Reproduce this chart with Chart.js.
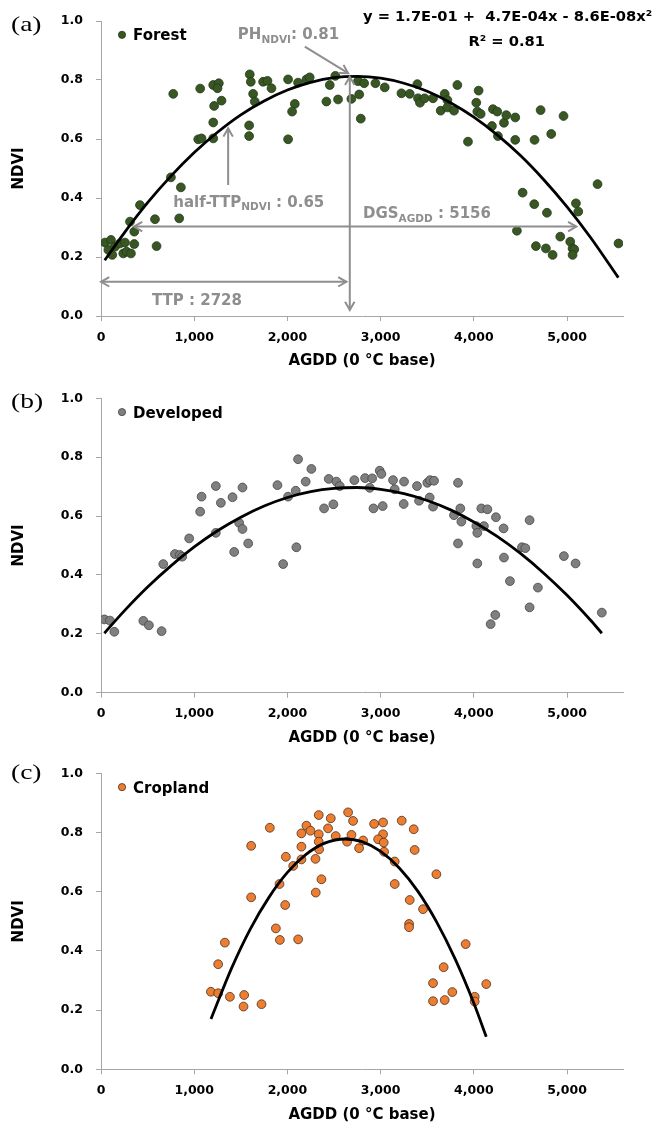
<!DOCTYPE html>
<html><head><meta charset="utf-8">
<script src="https://cdn.jsdelivr.net/npm/chart.js@4.4.1/dist/chart.umd.min.js"></script>
<style>
html,body{margin:0;padding:0;background:#fff;width:655px;height:1126px;overflow:hidden;position:relative;}
canvas{position:absolute;left:0;}
</style></head><body>
<canvas id="ca" width="655" height="372" style="top:0px"></canvas>
<canvas id="cb" width="655" height="377" style="top:372px"></canvas>
<canvas id="cc" width="655" height="377" style="top:749px"></canvas>
<script>
// ---------- tick labels ----------
const xTickValues = [0, 1000, 2000, 3000, 4000, 5000];
const xTickLabels = ['0', '1,000', '2,000', '3,000', '4,000', '5,000'];
const yTickValues = [0, 0.2, 0.4, 0.6, 0.8, 1.0];
const yTickLabels = ['0.0', '0.2', '0.4', '0.6', '0.8', '1.0'];
const xTitle = 'AGDD (0 °C base)';
const yTitle = 'NDVI';

// ---------- (a) Forest ----------
const forestAGDD = [43,107,79,121,150,204,257,239,275,321,357,311,357,418,579,596,750,857,839,775,1064,1204,1264,1250,1293,1214,1204,1043,1079,1204,1596,1607,1632,1650,1739,1786,1829,1589,1589,2007,2007,2079,2050,2114,2204,2239,2418,2454,2514,2543,2686,2757,2770,2787,2823,2944,3044,3223,3312,3394,3401,3422,3472,3562,3644,3687,3716,3716,3787,3823,3937,4026,4037,4051,4073,4194,4205,4251,4258,4323,4348,4444,4444,4651,4716,4830,4962,4523,4648,4784,4462,4666,4773,4845,4927,5034,5059,5077,5059,5095,5120,5327,5552];
const forestNDVI = [0.249,0.258,0.224,0.207,0.235,0.246,0.249,0.212,0.218,0.212,0.244,0.320,0.286,0.376,0.328,0.237,0.470,0.436,0.331,0.753,0.771,0.783,0.789,0.772,0.730,0.712,0.656,0.599,0.602,0.602,0.819,0.794,0.753,0.727,0.794,0.797,0.772,0.646,0.610,0.599,0.802,0.719,0.693,0.791,0.802,0.809,0.727,0.783,0.814,0.734,0.736,0.796,0.751,0.669,0.789,0.789,0.775,0.755,0.753,0.786,0.738,0.723,0.738,0.738,0.696,0.753,0.732,0.707,0.696,0.783,0.591,0.723,0.693,0.764,0.685,0.644,0.701,0.693,0.610,0.655,0.681,0.673,0.597,0.597,0.698,0.617,0.678,0.418,0.379,0.350,0.289,0.237,0.229,0.207,0.269,0.252,0.229,0.226,0.207,0.382,0.354,0.447,0.246];
const forestFitAGDD = [40,250,500,750,1000,1250,1500,1750,2000,2250,2500,2750,3000,3250,3500,3750,4000,4250,4500,4750,5000,5250,5550];
const forestFitNDVI = [0.189,0.282,0.384,0.474,0.554,0.623,0.682,0.729,0.766,0.792,0.808,0.812,0.806,0.789,0.762,0.723,0.674,0.614,0.544,0.462,0.370,0.267,0.130];

// ---------- (b) Developed ----------
const devAGDD = [36,96,143,454,514,650,668,793,846,871,946,1064,1079,1232,1286,1232,1411,1518,1482,1518,1429,1579,1893,1954,2096,2007,2089,2114,2257,2196,2393,2493,2443,2525,2561,2718,2833,2909,2883,2990,3008,2923,3022,3133,3151,3251,3247,3390,3412,3501,3530,3573,3526,3562,3830,3787,3855,3866,3830,4027,4037,4108,4080,4145,4237,4319,4037,4323,4516,4552,4598,4387,4687,4598,4230,4180,4966,5091,5373];
const devNDVI = [0.249,0.245,0.207,0.244,0.229,0.209,0.437,0.471,0.468,0.462,0.524,0.615,0.666,0.702,0.645,0.543,0.664,0.697,0.577,0.556,0.478,0.507,0.705,0.437,0.494,0.666,0.686,0.793,0.760,0.717,0.626,0.640,0.726,0.717,0.702,0.722,0.729,0.728,0.696,0.754,0.743,0.626,0.634,0.722,0.691,0.717,0.641,0.702,0.652,0.713,0.722,0.720,0.663,0.632,0.713,0.603,0.626,0.581,0.507,0.566,0.543,0.566,0.626,0.623,0.596,0.558,0.439,0.459,0.494,0.491,0.586,0.379,0.357,0.290,0.264,0.233,0.464,0.439,0.272];
const devFitAGDD = [36,250,500,750,1000,1250,1500,1750,2000,2250,2500,2750,3000,3250,3500,3750,4000,4250,4500,4750,5000,5250,5373];
const devFitNDVI = [0.202,0.278,0.359,0.431,0.495,0.550,0.596,0.634,0.663,0.683,0.694,0.697,0.691,0.676,0.653,0.621,0.580,0.531,0.473,0.406,0.331,0.247,0.202];

// ---------- (c) Cropland ----------
const cropAGDD = [1179,1257,1257,1329,1383,1536,1529,1722,1611,1611,1811,1876,1919,2115,1915,1976,1983,2062,2150,2150,2150,2204,2247,2301,2304,2365,2336,2336,2336,2340,2436,2465,2518,2651,2704,2687,2640,2769,2812,2930,3026,3026,2973,3033,3037,3226,3355,3365,3151,3151,3598,3312,3455,3305,3305,3912,3676,3562,3769,3562,3687,4009,4009,4133];
const cropNDVI = [0.262,0.257,0.355,0.428,0.245,0.251,0.212,0.220,0.755,0.581,0.816,0.476,0.437,0.439,0.626,0.555,0.718,0.687,0.752,0.797,0.709,0.823,0.806,0.711,0.597,0.642,0.859,0.794,0.769,0.743,0.814,0.848,0.788,0.868,0.839,0.792,0.769,0.747,0.773,0.829,0.834,0.794,0.777,0.766,0.735,0.840,0.811,0.741,0.702,0.626,0.659,0.572,0.541,0.491,0.480,0.423,0.345,0.291,0.261,0.230,0.234,0.245,0.229,0.288];
const cropFitAGDD = [1180,1400,1600,1800,2000,2200,2400,2622,2800,3000,3200,3400,3600,3800,4000,4133];
const cropFitNDVI = [0.170,0.341,0.473,0.580,0.665,0.726,0.764,0.778,0.769,0.736,0.680,0.601,0.498,0.372,0.223,0.110];

// ---------- annotation values for (a) ----------
const eqLines = ['y = 1.7E-01 +  4.7E-04x - 8.6E-08x²', 'R² = 0.81'];
const phNote = [{t:'PH'},{t:'NDVI',sub:true},{t:': 0.81'}];
const halfNote = [{t:'half-TTP'},{t:'NDVI',sub:true},{t:' : 0.65'}];
const ttpNote = [{t:'TTP : 2728'}];
const dgsNote = [{t:'DGS'},{t:'AGDD',sub:true},{t:' : 5156'}];

const FONT = "'DejaVu Sans', sans-serif";
const GRAY = '#8e8e8e';
const AXIS = '#a6a6a6';

function head(ctx, xa, ya, xb, yb) {
  const ang = Math.atan2(yb - ya, xb - xa), L = 9.5, w = 0.52;
  ctx.beginPath();
  ctx.moveTo(xb - L * Math.cos(ang - w), yb - L * Math.sin(ang - w));
  ctx.lineTo(xb, yb);
  ctx.lineTo(xb - L * Math.cos(ang + w), yb - L * Math.sin(ang + w));
  ctx.stroke();
}

const decor = {
  id: 'decor',
  afterDatasetsDraw(chart, args, o) {
    const ctx = chart.ctx, xs = chart.scales.x, ys = chart.scales.y, ca = chart.chartArea;
    const X = v => xs.getPixelForValue(v), Y = v => ys.getPixelForValue(v);
    ctx.save();
    // arrows
    ctx.strokeStyle = GRAY; ctx.lineWidth = 2; ctx.lineJoin = 'miter';
    (o.arrows || []).forEach(a => {
      const x1 = X(a.x1), y1 = Y(a.y1), x2 = X(a.x2), y2 = Y(a.y2);
      ctx.beginPath(); ctx.moveTo(x1, y1); ctx.lineTo(x2, y2); ctx.stroke();
      if (a.end) head(ctx, x1, y1, x2, y2);
      if (a.start) head(ctx, x2, y2, x1, y1);
    });
    // notes with subscripts
    ctx.fillStyle = GRAY; ctx.textBaseline = 'alphabetic'; ctx.textAlign = 'left';
    (o.notes || []).forEach(n => {
      let cx = X(n.x); const by = Y(n.y);
      n.segs.forEach(s => {
        ctx.font = 'bold ' + (s.sub ? 10.5 : 15) + 'px ' + FONT;
        ctx.fillText(s.t, cx, by + (s.sub ? 3.5 : 0));
        cx += ctx.measureText(s.t).width;
      });
    });
    // equation
    ctx.fillStyle = '#000'; ctx.textAlign = 'center';
    (o.eq || []).forEach(e => {
      ctx.font = 'bold 14.7px ' + FONT;
      ctx.fillText(e.t, X(e.x), Y(e.y));
    });
    // legend
    const lx = ca.left + 21, ly = ca.top + 13.8;
    ctx.beginPath(); ctx.arc(lx, ly, 3.6, 0, Math.PI * 2);
    ctx.fillStyle = o.fill; ctx.fill();
    ctx.lineWidth = 0.8; ctx.strokeStyle = o.stroke; ctx.stroke();
    ctx.fillStyle = '#000'; ctx.textAlign = 'left';
    ctx.font = 'bold 15px ' + FONT;
    ctx.fillText(chart.data.datasets[1].label, ca.left + 32, ca.top + 19.3);
    // panel label
    ctx.save();
    ctx.translate(11, o.labelY); ctx.scale(1.25, 1);
    ctx.font = '22px "Liberation Serif", serif'; ctx.textBaseline = 'middle'; ctx.textAlign = 'left';
    ctx.fillStyle = '#000';
    ctx.fillText(o.label, 0, 0);
    ctx.restore();
    ctx.restore();
  }
};

function build(id, p) {
  const cv = document.getElementById(id);
  const H = cv.height;
  return new Chart(cv, {
    type: 'scatter',
    data: {
      datasets: [
        { type: 'line', label: p.name + ' fit',
          data: p.fx.map((x, i) => ({ x: x, y: p.fy[i] })),
          borderColor: '#000', borderWidth: 2.8, pointRadius: 0, showLine: true,
          cubicInterpolationMode: 'monotone', fill: false, order: 0 },
        { label: p.name,
          data: p.x.map((x, i) => ({ x: x, y: p.y[i] })),
          backgroundColor: p.fill, borderColor: p.stroke, borderWidth: 0.8,
          pointRadius: 4.4, order: 1 }
      ]
    },
    options: {
      responsive: false, animation: false, devicePixelRatio: 1,
      layout: { padding: { left: 0, right: 32, top: p.top, bottom: 0 } },
      plugins: {
        legend: { display: false }, tooltip: { enabled: false },
        decor: { label: p.label, labelY: p.labelY, fill: p.fill, stroke: p.stroke,
                 arrows: p.arrows, notes: p.notes, eq: p.eq }
      },
      scales: {
        x: {
          type: 'linear', min: 0, max: 5600,
          afterFit(s) { s.height = H - p.top - p.plotH; },
          afterBuildTicks(s) { s.ticks = xTickValues.map(v => ({ value: v })); },
          ticks: { callback: (v, i) => xTickLabels[i], font: { family: FONT, weight: 'bold', size: 12.5 },
                   color: '#000', padding: 9, maxRotation: 0, autoSkip: false },
          grid: { drawOnChartArea: false, drawTicks: true, tickLength: 5, color: AXIS },
          border: { color: AXIS, width: 1 },
          title: { display: true, text: xTitle, color: '#000',
                   font: { family: FONT, weight: 'bold', size: 15 }, padding: { top: 0, bottom: 1.5 } }
        },
        y: {
          type: 'linear', min: 0, max: 1,
          afterFit(s) { s.width = 101; },
          afterBuildTicks(s) { s.ticks = yTickValues.map(v => ({ value: v })); },
          ticks: { callback: (v, i) => yTickLabels[i], font: { family: FONT, weight: 'bold', size: 12.5 },
                   color: '#000', padding: 13, autoSkip: false },
          grid: { drawOnChartArea: false, drawTicks: true, tickLength: 5, color: AXIS },
          border: { color: AXIS, width: 1 },
          title: { display: true, text: yTitle, color: '#000',
                   font: { family: FONT, weight: 'bold', size: 15 }, padding: { top: 10, bottom: 0 } }
        }
      }
    },
    plugins: [decor]
  });
}

build('ca', {
  name: 'Forest', x: forestAGDD, y: forestNDVI, fx: forestFitAGDD, fy: forestFitNDVI,
  fill: '#385723', stroke: '#24391a', top: 21, plotH: 295, label: '(a)', labelY: 25,
  arrows: [
    { x1: 2186, y1: 0.913, x2: 2651, y2: 0.823, end: true },
    { x1: 2669, y1: 0.811, x2: 2669, y2: 0.020, start: true, end: true },
    { x1: 0, y1: 0.116, x2: 2633, y2: 0.116, start: true, end: true },
    { x1: 1364, y1: 0.444, x2: 1364, y2: 0.636, end: true },
    { x1: 354, y1: 0.303, x2: 5099, y2: 0.303, start: true, end: true }
  ],
  notes: [
    { x: 1468, y: 0.938, segs: phNote },
    { x: 775, y: 0.371, segs: halfNote },
    { x: 547, y: 0.037, segs: ttpNote },
    { x: 2811, y: 0.331, segs: dgsNote }
  ],
  eq: [ { t: eqLines[0], x: 4362, y: 1.001 }, { t: eqLines[1], x: 4352, y: 0.914 } ]
});
build('cb', {
  name: 'Developed', x: devAGDD, y: devNDVI, fx: devFitAGDD, fy: devFitNDVI,
  fill: '#7f7f7f', stroke: '#454545', top: 26.3, plotH: 294.4, label: '(b)', labelY: 30
});
build('cc', {
  name: 'Cropland', x: cropAGDD, y: cropNDVI, fx: cropFitAGDD, fy: cropFitNDVI,
  fill: '#ed7d31', stroke: '#4a3020', top: 24.3, plotH: 296, label: '(c)', labelY: 24
});
</script>
</body></html>
